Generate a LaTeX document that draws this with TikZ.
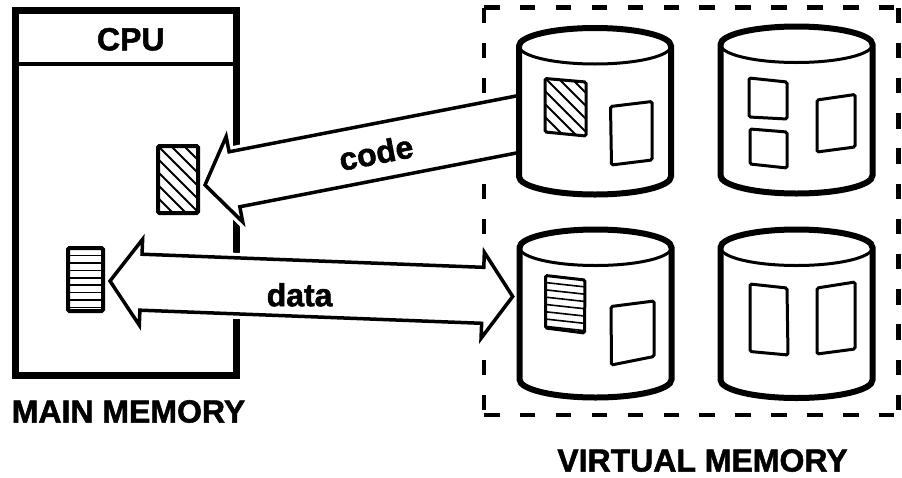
\documentclass[tikz,border=0pt]{standalone}
\usepackage{fontspec}
\setmainfont{Liberation Sans}[BoldFeatures={FakeBold=1.6}]
\begin{document}
\begin{tikzpicture}[x=1pt,y=-1pt,
  lbl/.style={font=\fontsize{32}{36}\selectfont\bfseries, inner sep=0pt},
  memframe/.style={draw, line width=6.5pt},
  blockarrow/.style={draw, fill=white, line width=3.5pt, miter limit=6,
    preaction={draw=white, fill=white, line width=10pt}},
  drum/.style={draw, fill=white, line width=6pt},
  drumlip/.style={line width=3pt},
  patch/.style={draw, line width=3pt, rounded corners=1.5pt},
  hatchline/.style={line width=2pt},
  vmedge/.style={line width=4.5pt, line cap=square},
]
\useasboundingbox (0,0) rectangle (902,477);

% ---------- main memory ----------
\node[memframe, minimum width=221pt, minimum height=365pt, inner sep=0pt] (mm) at (126,193) {};
\coordinate (cpuW) at (15.5,63.5);
\coordinate (cpuE) at (236.5,63.5);
\draw[line width=4pt] (cpuW) -- (cpuE);
\node[lbl] (cpu) at (130.8,39.3) {CPU};
\node[lbl] (mmlbl) at (128.5,411.5) {MAIN MEMORY};

% ---------- virtual memory frame ----------
\coordinate (vmNW) at (484,7.5);
\coordinate (vmNE) at (898.5,7.5);
\coordinate (vmSE) at (898.5,415);
\coordinate (vmSW) at (484,415);
\draw[vmedge, dash pattern=on 15.5pt off 20.4pt] (vmNW) -- (vmNE);
\draw[vmedge, dash pattern=on 15.5pt off 20.4pt] (vmSW) -- (vmSE);
\draw[vmedge, dash pattern=on 15.5pt off 19.7pt] (vmNW) -- (vmSW);
\draw[vmedge, dash pattern=on 15.5pt off 19.7pt] (vmNE) -- (vmSE);
\node[lbl] (vmlbl) at (702.5,460.5) {VIRTUAL MEMORY};

% ---------- block arrows ----------
\coordinate (codetip) at (205,185);
\begin{scope}[shift={(codetip)}, rotate=11]
  \filldraw[blockarrow] (0,0) -- (30,-43.5) -- (30,-28) -- (335,-28)
     -- (335,28) -- (30,28) -- (30,43.5) -- cycle;
  \node[lbl, transform shape] (codelbl) at (174,1) {code};
\end{scope}

\coordinate (datatip) at (110,281);
\begin{scope}[shift={(datatip)}, rotate=-2.2]
  \filldraw[blockarrow] (0,0) -- (31,-43) -- (31,-28) -- (373,-28) -- (373,-43)
     -- (403,0) -- (373,43) -- (373,28) -- (31,28) -- (31,43) -- cycle;
  \node[lbl] (datalbl) at (190,6.5) {data};
\end{scope}

% ---------- pages held in main memory ----------
\begin{scope}
  \clip (158,146) rectangle (198,213);
  \foreach \k in {-78,-65,...,50} \draw[hatchline] (158+\k,146) -- ++(80,80);
\end{scope}
\draw[line width=4pt, rounded corners=1.5pt] (158,146) rectangle (198,213);

\begin{scope}
  \clip (68,248) rectangle (103,311);
  \foreach \k in {0,...,7} \draw[line width=1.6pt] (68,255.5+7.4*\k) -- (103,255.5+7.4*\k);
\end{scope}
\draw[line width=4pt, rounded corners=1.5pt] (68,248) rectangle (103,311);

% ---------- disk drums ----------
\newcommand\drumunit[4]{%
  \coordinate (#1) at (#2,#3);
  \filldraw[drum] (#2-76,#3) arc[start angle=180, end angle=0, x radius=76pt, y radius=18pt]
     -- (#2+76,#4) arc[start angle=0, end angle=-180, x radius=76pt, y radius=18pt] -- cycle;
  \draw[drumlip] (#2-76,#3) arc[start angle=180, end angle=360, x radius=76pt, y radius=18pt];
}
\drumunit{drumA}{595}{46}{176.5}
\drumunit{drumB}{796.5}{44.5}{175.5}
\drumunit{drumC}{595.5}{247.5}{379.5}
\drumunit{drumD}{796.5}{247.5}{380}

% drum A: code page and a free page
\begin{scope}
  \clip (545,78.5) -- (586,82) -- (586,136) -- (545,132) -- cycle;
  \foreach \k in {-65,-52,...,50} \draw[hatchline] (545+\k,78) -- ++(70,70);
\end{scope}
\draw[patch] (545,78.5) -- (586,82) -- (586,136) -- (545,132) -- cycle;
\draw[patch] (610.5,106.5) -- (652,101.5) -- (652,160) -- (611.5,165) -- cycle;

% drum B
\draw[patch] (749,78) -- (787,82) -- (787,119) -- (749,117) -- cycle;
\draw[patch] (750,129) -- (787,132) -- (787,168) -- (750,164) -- cycle;
\draw[patch] (817,100) -- (855,94.5) -- (855,147) -- (817,152) -- cycle;

% drum C: data page and a free page
\begin{scope}
  \clip (545.5,275.5) -- (585,280) -- (584.5,333) -- (545.5,328) -- cycle;
  \foreach \k in {0,...,7} \draw[line width=1.6pt] (545,282.5+7.3*\k) -- (586,287+7.3*\k);
\end{scope}
\draw[patch] (545.5,275.5) -- (585,280) -- (584.5,333) -- (545.5,328) -- cycle;
\draw[patch] (611,306.5) -- (654,301) -- (654,356.5) -- (611.5,365) -- cycle;

% drum D
\draw[patch] (750,284) -- (787,288) -- (788,355) -- (750,351.5) -- cycle;
\draw[patch] (817,288) -- (855,282) -- (855,349) -- (817,354) -- cycle;
\end{tikzpicture}
\end{document}
